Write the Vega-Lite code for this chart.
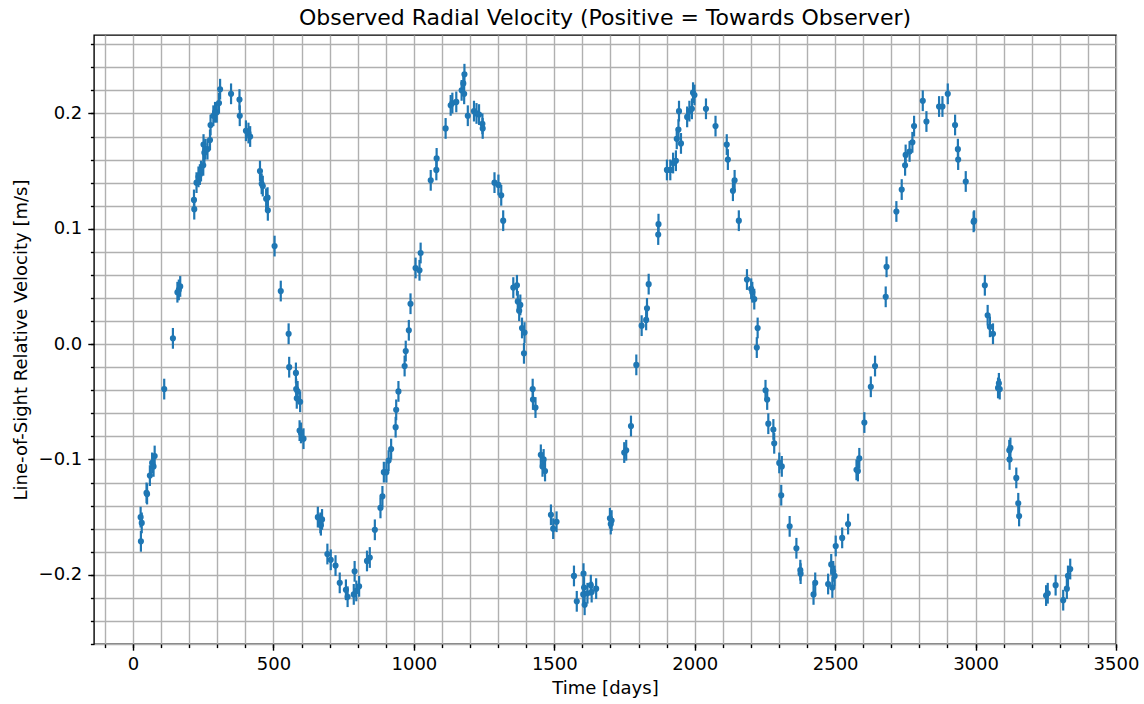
{
  "$schema": "https://vega.github.io/schema/vega-lite/v6.json",
  "width": 1022,
  "height": 609,
  "autosize": "none",
  "padding": {"left": 94, "top": 35, "right": 28, "bottom": 60},
  "title": {"text": "Observed Radial Velocity (Positive = Towards Observer)", "fontSize": 22, "font": "DejaVu Sans", "fontWeight": "normal", "color": "black", "anchor": "middle", "frame": "group", "offset": 5},
  "config": {
    "font": "DejaVu Sans",
    "view": {"stroke": "black", "strokeWidth": 1.4},
    "axis": {"domain": false, "tickColor": "black", "tickWidth": 1.4, "gridColor": "#b0b0b0", "gridWidth": 1.4, "gridOpacity": 1, "labelColor": "black", "labelFont": "DejaVu Sans", "labelFontSize": 18, "titleFont": "DejaVu Sans", "titleFontSize": 18, "titleFontWeight": "normal", "titleColor": "black", "labelFlush": false, "labelOverlap": false}
  },
  "data": {"values": [
    {"t":27,"v":-0.150,"e":0.009},{"t":31,"v":-0.155,"e":0.009},{"t":28,"v":-0.171,"e":0.009},{"t":48,"v":-0.129,"e":0.009},{"t":50,"v":-0.130,"e":0.009},{"t":60,"v":-0.114,"e":0.009},{"t":68,"v":-0.103,"e":0.009},{"t":73,"v":-0.106,"e":0.009},{"t":77,"v":-0.097,"e":0.009},{"t":111,"v":-0.039,"e":0.009},{"t":142,"v":0.005,"e":0.009},{"t":158,"v":0.045,"e":0.009},{"t":163,"v":0.047,"e":0.009},{"t":168,"v":0.050,"e":0.009},{"t":217,"v":0.125,"e":0.009},{"t":218,"v":0.117,"e":0.009},{"t":226,"v":0.140,"e":0.009},{"t":233,"v":0.145,"e":0.009},{"t":238,"v":0.147,"e":0.009},{"t":242,"v":0.150,"e":0.009},{"t":250,"v":0.155,"e":0.009},{"t":251,"v":0.173,"e":0.009},{"t":254,"v":0.166,"e":0.009},{"t":257,"v":0.169,"e":0.009},{"t":265,"v":0.169,"e":0.009},{"t":274,"v":0.177,"e":0.009},{"t":276,"v":0.190,"e":0.009},{"t":286,"v":0.198,"e":0.009},{"t":292,"v":0.201,"e":0.009},{"t":298,"v":0.201,"e":0.009},{"t":306,"v":0.209,"e":0.009},{"t":310,"v":0.221,"e":0.009},{"t":349,"v":0.217,"e":0.009},{"t":379,"v":0.212,"e":0.009},{"t":380,"v":0.198,"e":0.009},{"t":402,"v":0.185,"e":0.009},{"t":411,"v":0.183,"e":0.009},{"t":417,"v":0.180,"e":0.009},
    {"t":452,"v":0.150,"e":0.009},{"t":458,"v":0.139,"e":0.009},{"t":462,"v":0.137,"e":0.009},{"t":474,"v":0.126,"e":0.009},{"t":479,"v":0.127,"e":0.009},{"t":480,"v":0.116,"e":0.009},{"t":504,"v":0.085,"e":0.009},{"t":526,"v":0.046,"e":0.009},{"t":554,"v":0.009,"e":0.009},{"t":556,"v":-0.020,"e":0.009},{"t":580,"v":-0.025,"e":0.009},{"t":581,"v":-0.039,"e":0.009},{"t":586,"v":-0.041,"e":0.009},{"t":583,"v":-0.047,"e":0.009},{"t":595,"v":-0.050,"e":0.009},{"t":593,"v":-0.075,"e":0.009},{"t":598,"v":-0.077,"e":0.009},{"t":607,"v":-0.082,"e":0.009},{"t":658,"v":-0.150,"e":0.009},{"t":667,"v":-0.155,"e":0.009},{"t":673,"v":-0.152,"e":0.009},{"t":669,"v":-0.157,"e":0.009},{"t":692,"v":-0.182,"e":0.009},{"t":704,"v":-0.187,"e":0.009},{"t":721,"v":-0.192,"e":0.009},{"t":736,"v":-0.207,"e":0.009},{"t":758,"v":-0.213,"e":0.009},{"t":764,"v":-0.219,"e":0.009},{"t":789,"v":-0.197,"e":0.009},{"t":786,"v":-0.217,"e":0.009},{"t":795,"v":-0.214,"e":0.009},{"t":805,"v":-0.210,"e":0.009},{"t":833,"v":-0.188,"e":0.009},{"t":843,"v":-0.185,"e":0.009},{"t":861,"v":-0.161,"e":0.009},{"t":881,"v":-0.142,"e":0.009},{"t":888,"v":-0.132,"e":0.009},{"t":893,"v":-0.111,"e":0.009},{"t":902,"v":-0.111,"e":0.009},{"t":910,"v":-0.101,"e":0.009},{"t":919,"v":-0.091,"e":0.009},{"t":935,"v":-0.072,"e":0.009},{"t":937,"v":-0.057,"e":0.009},{"t":945,"v":-0.041,"e":0.009},{"t":967,"v":-0.019,"e":0.009},{"t":971,"v":-0.006,"e":0.009},{"t":982,"v":0.012,"e":0.009},{"t":988,"v":0.035,"e":0.009},
    {"t":1006,"v":0.066,"e":0.009},{"t":1020,"v":0.064,"e":0.009},{"t":1024,"v":0.079,"e":0.009},{"t":1060,"v":0.142,"e":0.009},{"t":1080,"v":0.151,"e":0.009},{"t":1081,"v":0.161,"e":0.009},{"t":1113,"v":0.187,"e":0.009},{"t":1131,"v":0.207,"e":0.009},{"t":1137,"v":0.209,"e":0.009},{"t":1151,"v":0.210,"e":0.009},{"t":1170,"v":0.220,"e":0.009},{"t":1176,"v":0.226,"e":0.009},{"t":1180,"v":0.234,"e":0.009},{"t":1179,"v":0.217,"e":0.009},{"t":1192,"v":0.198,"e":0.009},{"t":1214,"v":0.202,"e":0.009},{"t":1223,"v":0.200,"e":0.009},{"t":1232,"v":0.199,"e":0.009},{"t":1244,"v":0.191,"e":0.009},{"t":1245,"v":0.187,"e":0.009},{"t":1287,"v":0.140,"e":0.009},{"t":1301,"v":0.138,"e":0.009},{"t":1311,"v":0.129,"e":0.009},{"t":1318,"v":0.107,"e":0.009},{"t":1354,"v":0.049,"e":0.009},{"t":1367,"v":0.051,"e":0.009},{"t":1370,"v":0.037,"e":0.009},{"t":1379,"v":0.034,"e":0.009},{"t":1375,"v":0.029,"e":0.009},{"t":1385,"v":0.014,"e":0.009},{"t":1394,"v":0.010,"e":0.009},{"t":1392,"v":-0.008,"e":0.009},{"t":1423,"v":-0.039,"e":0.009},{"t":1424,"v":-0.048,"e":0.009},{"t":1433,"v":-0.055,"e":0.009},{"t":1452,"v":-0.096,"e":0.009},{"t":1462,"v":-0.100,"e":0.009},{"t":1458,"v":-0.106,"e":0.009},{"t":1467,"v":-0.110,"e":0.009},{"t":1488,"v":-0.148,"e":0.009},{"t":1496,"v":-0.160,"e":0.009},{"t":1508,"v":-0.154,"e":0.009},
    {"t":1570,"v":-0.201,"e":0.009},{"t":1580,"v":-0.223,"e":0.009},{"t":1604,"v":-0.199,"e":0.009},{"t":1606,"v":-0.211,"e":0.009},{"t":1608,"v":-0.226,"e":0.009},{"t":1603,"v":-0.217,"e":0.009},{"t":1618,"v":-0.216,"e":0.009},{"t":1630,"v":-0.209,"e":0.009},{"t":1633,"v":-0.215,"e":0.009},{"t":1649,"v":-0.212,"e":0.009},{"t":1698,"v":-0.151,"e":0.009},{"t":1701,"v":-0.156,"e":0.009},{"t":1704,"v":-0.153,"e":0.009},{"t":1749,"v":-0.094,"e":0.009},{"t":1756,"v":-0.092,"e":0.009},{"t":1773,"v":-0.071,"e":0.009},{"t":1792,"v":-0.018,"e":0.009},{"t":1811,"v":0.016,"e":0.009},{"t":1827,"v":0.021,"e":0.009},{"t":1830,"v":0.031,"e":0.009},{"t":1836,"v":0.052,"e":0.009},{"t":1870,"v":0.095,"e":0.009},{"t":1871,"v":0.104,"e":0.009},{"t":1901,"v":0.151,"e":0.009},{"t":1913,"v":0.151,"e":0.009},{"t":1923,"v":0.157,"e":0.009},{"t":1933,"v":0.159,"e":0.009},{"t":1936,"v":0.178,"e":0.009},{"t":1942,"v":0.186,"e":0.009},{"t":1951,"v":0.174,"e":0.009},{"t":1944,"v":0.202,"e":0.009},{"t":1973,"v":0.197,"e":0.009},{"t":1981,"v":0.202,"e":0.009},{"t":1990,"v":0.204,"e":0.009},{"t":1994,"v":0.218,"e":0.009},{"t":1999,"v":0.216,"e":0.009},{"t":2040,"v":0.204,"e":0.009},{"t":2074,"v":0.189,"e":0.009},
    {"t":2114,"v":0.173,"e":0.009},{"t":2118,"v":0.160,"e":0.009},{"t":2142,"v":0.142,"e":0.009},{"t":2136,"v":0.133,"e":0.009},{"t":2157,"v":0.107,"e":0.009},{"t":2186,"v":0.056,"e":0.009},{"t":2201,"v":0.048,"e":0.009},{"t":2205,"v":0.045,"e":0.009},{"t":2212,"v":0.039,"e":0.009},{"t":2224,"v":0.014,"e":0.009},{"t":2221,"v":-0.003,"e":0.009},{"t":2252,"v":-0.040,"e":0.009},{"t":2258,"v":-0.048,"e":0.009},{"t":2262,"v":-0.069,"e":0.009},{"t":2280,"v":-0.074,"e":0.009},{"t":2283,"v":-0.086,"e":0.009},{"t":2301,"v":-0.103,"e":0.009},{"t":2310,"v":-0.106,"e":0.009},{"t":2308,"v":-0.131,"e":0.009},{"t":2338,"v":-0.158,"e":0.009},{"t":2362,"v":-0.177,"e":0.009},{"t":2376,"v":-0.196,"e":0.009},{"t":2377,"v":-0.199,"e":0.009},{"t":2423,"v":-0.217,"e":0.009},{"t":2429,"v":-0.207,"e":0.009},{"t":2475,"v":-0.208,"e":0.009},{"t":2486,"v":-0.191,"e":0.009},{"t":2490,"v":-0.211,"e":0.009},{"t":2493,"v":-0.197,"e":0.009},{"t":2498,"v":-0.201,"e":0.009},{"t":2502,"v":-0.175,"e":0.009},{"t":2525,"v":-0.168,"e":0.009},{"t":2546,"v":-0.156,"e":0.009},{"t":2576,"v":-0.109,"e":0.009},{"t":2581,"v":-0.110,"e":0.009},{"t":2586,"v":-0.099,"e":0.009},{"t":2604,"v":-0.068,"e":0.009},{"t":2627,"v":-0.037,"e":0.009},{"t":2642,"v":-0.019,"e":0.009},
    {"t":2683,"v":0.067,"e":0.009},{"t":2680,"v":0.041,"e":0.009},{"t":2718,"v":0.115,"e":0.009},{"t":2737,"v":0.134,"e":0.009},{"t":2749,"v":0.155,"e":0.009},{"t":2751,"v":0.164,"e":0.009},{"t":2765,"v":0.167,"e":0.009},{"t":2775,"v":0.175,"e":0.009},{"t":2781,"v":0.189,"e":0.009},{"t":2812,"v":0.211,"e":0.009},{"t":2825,"v":0.193,"e":0.009},{"t":2870,"v":0.206,"e":0.009},{"t":2882,"v":0.206,"e":0.009},{"t":2901,"v":0.217,"e":0.009},{"t":2927,"v":0.190,"e":0.009},{"t":2937,"v":0.169,"e":0.009},{"t":2938,"v":0.160,"e":0.009},{"t":2965,"v":0.141,"e":0.009},{"t":2993,"v":0.106,"e":0.009},{"t":2995,"v":0.107,"e":0.009},{"t":3033,"v":0.051,"e":0.009},{"t":3043,"v":0.025,"e":0.009},{"t":3051,"v":0.015,"e":0.009},{"t":3062,"v":0.009,"e":0.009},{"t":3080,"v":-0.038,"e":0.009},{"t":3086,"v":-0.039,"e":0.009},{"t":3083,"v":-0.034,"e":0.009},{"t":3120,"v":-0.092,"e":0.009},{"t":3124,"v":-0.090,"e":0.009},{"t":3121,"v":-0.100,"e":0.009},{"t":3145,"v":-0.116,"e":0.009},{"t":3152,"v":-0.138,"e":0.009},{"t":3155,"v":-0.149,"e":0.009},
    {"t":3251,"v":-0.218,"e":0.009},{"t":3257,"v":-0.216,"e":0.009},{"t":3285,"v":-0.209,"e":0.009},{"t":3312,"v":-0.222,"e":0.009},{"t":3325,"v":-0.212,"e":0.009},{"t":3329,"v":-0.201,"e":0.009},{"t":3337,"v":-0.195,"e":0.009}
  ]},
  "layer": [
    {
      "mark": {"type": "errorbar", "color": "#1f77b4", "thickness": 2.2},
      "encoding": {
        "x": {"field": "t", "type": "quantitative", "scale": {"domain": [-139, 3500], "nice": false, "zero": false},
          "axis": {"orient": "bottom", "values": [-100,0,100,200,300,400,500,600,700,800,900,1000,1100,1200,1300,1400,1500,1600,1700,1800,1900,2000,2100,2200,2300,2400,2500,2600,2700,2800,2900,3000,3100,3200,3300,3400,3500], "grid": true, "labels": false, "tickSize": 3.6, "title": null}},
        "y": {"field": "v", "type": "quantitative", "scale": {"domain": [-0.26, 0.268], "nice": false, "zero": false},
          "axis": {"orient": "left", "values": [-0.26,-0.24,-0.22,-0.2,-0.18,-0.16,-0.14,-0.12,-0.1,-0.08,-0.06,-0.04,-0.02,0,0.02,0.04,0.06,0.08,0.1,0.12,0.14,0.16,0.18,0.2,0.22,0.24,0.26], "grid": true, "labels": false, "tickSize": 3.6, "title": null}},
        "yError": {"field": "e"}
      }
    },
    {
      "mark": {"type": "point", "filled": true, "size": 38, "opacity": 1, "color": "#1f77b4"},
      "encoding": {
        "x": {"field": "t", "type": "quantitative", "scale": {"domain": [-139, 3500], "nice": false, "zero": false},
          "axis": {"orient": "bottom", "values": [0,500,1000,1500,2000,2500,3000,3500], "format": "d", "grid": false, "tickSize": 6.2, "labelPadding": 5, "title": "Time [days]", "titlePadding": 6}},
        "y": {"field": "v", "type": "quantitative", "scale": {"domain": [-0.26, 0.268], "nice": false, "zero": false},
          "axis": {"orient": "left", "values": [-0.2,-0.1,0,0.1,0.2], "format": ".1f", "grid": false, "tickSize": 6.2, "labelPadding": 6, "title": "Line-of-Sight Relative Velocity [m/s]", "titlePadding": 8}}
      }
    }
  ],
  "resolve": {"axis": {"x": "independent", "y": "independent"}}
}
